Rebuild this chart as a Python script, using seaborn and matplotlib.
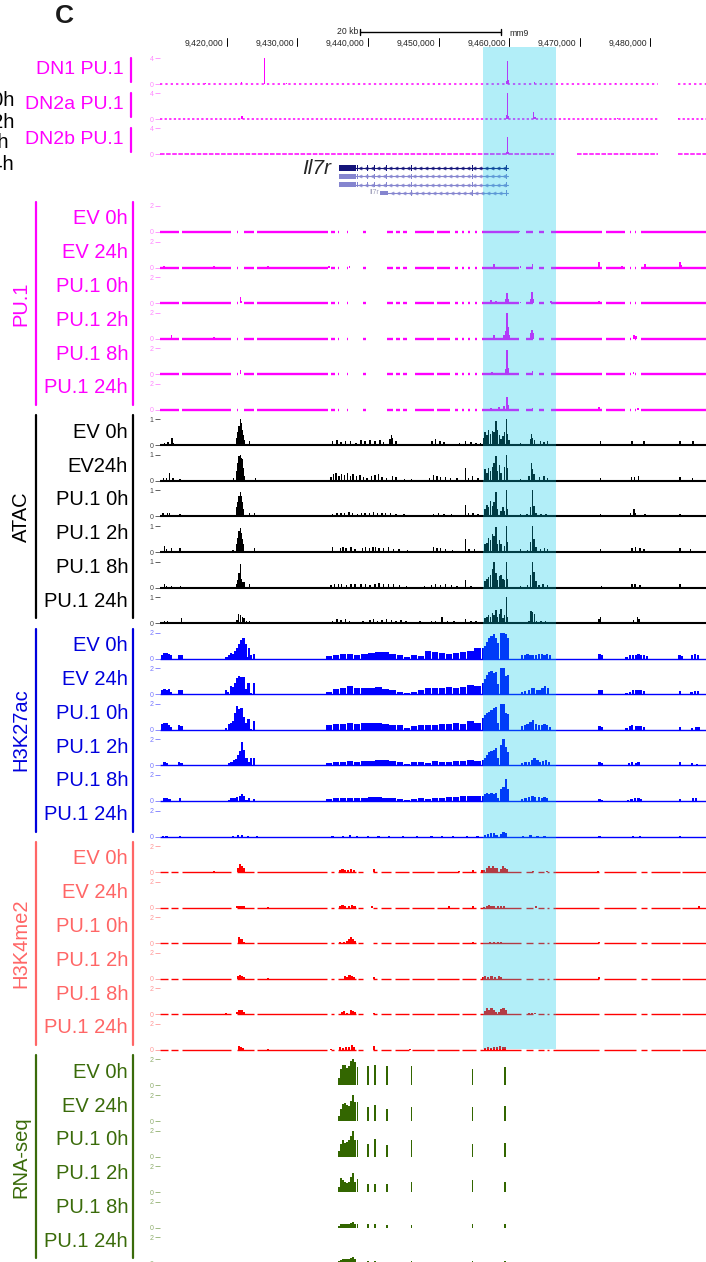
import numpy as np
import matplotlib
matplotlib.use("Agg")
import matplotlib.pyplot as plt
import seaborn as sns
from matplotlib.lines import Line2D

sns.set_theme(style="white")
plt.rcParams['font.family'] = ['Liberation Sans', 'DejaVu Sans']

# ---------------------------------------------------------------- data
ORIGIN_KB = 9420.0                      # positions below are kb offsets from 9,420,000 (mm9 chr15)
VIEW_KB = (-9.43, 67.86)
RULER_TICKS_KB = [9420, 9430, 9440, 9450, 9460, 9470, 9480]
SCALE_BAR_KB = (18.9, 38.9)             # 20 kb
HIGHLIGHT_KB = (36.3, 46.6)

# gene model (Il7r, minus strand)
GENE_START_KB = 15.95
GENE_UTR_END_KB = 18.3
GENE_TSS_KB = 39.8
GENE_EXONS_KB = [18.5, 19.97, 20.96, 22.7, 26.15, 34.82, 39.6]
SHORT_TX_START_KB = 21.7
SHORT_TX_BLOCK_END_KB = 22.8

# DN thymocyte PU.1 ChIP (scale 0-4)
DN_LABELS = ["DN1 PU.1", "DN2a PU.1", "DN2b PU.1"]
DN1 = [(-3.0, 0.15), (2.05, 0.4), (5.37, 4.2), (8.5, 0.15), (20.0, 0.12), (39.6, 0.5), (39.8, 3.6),
       (39.95, 0.6), (43.6, 0.4), (55.0, 0.15), (58.0, 0.15)]
DN2A = [(2.18, 0.5), (2.3, 0.2), (39.6, 0.6), (39.8, 4.2), (39.95, 0.5), (43.5, 1.2), (43.65, 0.4),
        (55.3, 0.25), (64.0, 0.2)]
DN2B = [(39.6, 0.3), (39.8, 2.6), (39.95, 0.3)]
DN_COVER = [(-9.43, 61.0), (63.9, 67.86)]
DN2B_COVER = [(-9.43, 46.4), (49.6, 61.0), (63.9, 67.86)]

TRACK_LABELS = ["EV 0h", "EV 24h", "PU.1 0h", "PU.1 2h", "PU.1 8h", "PU.1 24h"]
ATAC_LABELS = ["EV 0h", "EV24h", "PU.1 0h", "PU.1 2h", "PU.1 8h", "PU.1 24h"]

# PU.1 ChIP (scale 0-2)
PU1_EV0 = [(-1.8, 0.08), (5.9, 0.06), (41.4, 0.08), (56.0, 0.06)]
PU1_EV24 = [(-8.9, 0.15), (-1.8, 0.1), (5.9, 0.1), (14.5, 0.12), (17.4, 0.1), (37.9, 0.25), (41.6, 0.1),
            (43.3, 0.3), (52.7, 0.45), (56.0, 0.12), (59.2, 0.3), (64.2, 0.45), (64.4, 0.2)]
PU1_P0 = [(1.96, 0.45), (2.1, 0.2), (37.4, 0.25), (38.1, 0.2), (39.6, 0.35), (39.71, 0.75), (39.85, 0.3),
          (41.6, 0.12), (43.1, 0.3), (43.28, 0.85), (43.45, 0.35), (45.9, 0.15), (52.7, 0.15), (59.2, 0.12)]
PU1_P2 = [(-7.8, 0.3), (-1.8, 0.1), (37.9, 0.25), (39.3, 0.3), (39.5, 0.6), (39.71, 2.0), (39.85, 0.9),
          (40.0, 0.3), (43.1, 0.45), (43.28, 0.65), (43.45, 0.4), (57.7, 0.3), (57.9, 0.2)]
PU1_P8 = [(1.96, 0.35), (37.6, 0.15), (39.5, 0.4), (39.71, 1.9), (39.85, 0.5), (43.3, 0.25), (57.6, 0.15)]
PU1_P24 = [(37.4, 0.15), (38.6, 0.2), (39.3, 0.3), (39.71, 1.0), (39.85, 0.4), (43.3, 0.12), (52.7, 0.2),
           (58.2, 0.12)]
PU1_COVER = [(-9.43, -6.8), (-6.3, 0.6), (1.4, 1.6), (2.5, 3.9), (4.3, 14.3), (14.8, 15.3), (15.7, 15.9),
             (17.0, 17.2), (19.3, 19.7), (22.7, 23.6), (24.0, 24.6), (25.0, 25.6), (26.7, 29.3),
             (29.8, 31.6), (32.4, 32.8), (33.3, 33.6), (34.2, 34.4), (35.1, 35.4), (36.1, 41.4),
             (42.4, 43.4), (44.2, 44.9), (45.9, 53.2), (53.7, 56.4), (57.1, 57.3), (57.8, 58.0),
             (58.7, 67.86)]

# ATAC-seq (scale 0-1)
ATAC_EV0 = [(-8.8, 0.1), (-8.3, 0.12), (-7.73, 0.28), (-7.5, 0.08), (-6.4, 0.05),
            (1.46, 0.3), (1.61, 0.5), (1.76, 0.75), (1.96, 1.05), (2.11, 0.85), (2.26, 0.6), (2.41, 0.4),
            (2.56, 0.2), (3.22, 0.15),
            (15.0, 0.15), (15.6, 0.2), (16.2, 0.12), (16.8, 0.18), (17.5, 0.15), (18.3, 0.1), (19.0, 0.2),
            (19.6, 0.15), (20.3, 0.2), (21.0, 0.18), (21.7, 0.2), (22.2, 0.12), (23.1, 0.25), (23.3, 0.4),
            (23.5, 0.3), (24.0, 0.15), (29.1, 0.15), (29.6, 0.25), (30.2, 0.15), (30.8, 0.12), (32.3, 0.05),
            (33.0, 0.1), (33.8, 0.18), (34.6, 0.12), (35.3, 0.1), (35.9, 0.08),
            (36.45, 0.3), (36.6, 0.5), (36.85, 0.4), (37.1, 0.6), (37.35, 0.45), (37.6, 0.55), (37.85, 0.5),
            (38.11, 0.95), (38.3, 0.6), (38.61, 0.4), (38.86, 0.25), (39.11, 0.35), (39.36, 0.5),
            (39.61, 1.0), (39.8, 0.45), (40.0, 0.2),
            (41.6, 0.08), (42.6, 0.05), (43.0, 0.25), (43.13, 0.42), (43.3, 0.3), (43.6, 0.2), (44.4, 0.15),
            (44.9, 0.12), (45.4, 0.15), (46.0, 0.05), (52.9, 0.15), (57.4, 0.15), (59.1, 0.15), (64.2, 0.15),
            (66.0, 0.15)]
ATAC_EV24 = [(-8.9, 0.12), (-8.5, 0.12), (-8.1, 0.3), (-7.6, 0.1), (-6.6, 0.08), (-5.5, 0.05), (0.96, 0.1),
             (1.46, 0.4), (1.61, 0.7), (1.76, 0.95), (1.96, 1.0), (2.11, 0.9), (2.26, 0.85), (2.41, 0.5),
             (2.56, 0.2), (4.1, 0.1), (6.5, 0.04),
             (14.8, 0.15), (15.1, 0.25), (15.5, 0.3), (15.9, 0.2), (16.3, 0.28), (16.7, 0.22), (17.1, 0.3),
             (17.5, 0.2), (17.9, 0.25), (18.4, 0.18), (18.9, 0.22), (19.4, 0.15), (19.9, 0.12), (20.5, 0.18),
             (21.0, 0.22), (21.5, 0.25), (22.0, 0.15), (22.6, 0.1), (23.5, 0.2), (24.0, 0.15), (25.2, 0.08),
             (26.2, 0.06), (28.7, 0.1), (29.3, 0.22), (29.8, 0.2), (30.3, 0.15), (31.0, 0.15), (31.7, 0.1),
             (32.6, 0.12), (33.84, 0.5), (34.2, 0.12), (34.84, 0.18), (35.6, 0.1),
             (36.6, 0.45), (36.85, 0.3), (37.1, 0.5), (37.35, 0.4), (37.6, 0.55), (37.85, 0.7), (38.11, 0.95),
             (38.36, 0.4), (38.61, 0.6), (38.86, 0.3), (39.36, 0.55), (39.61, 1.05), (39.8, 0.5),
             (41.6, 0.06), (42.8, 0.2), (43.13, 0.7), (43.3, 0.45), (43.5, 0.25), (44.3, 0.15), (44.9, 0.2),
             (45.4, 0.12), (52.9, 0.12), (56.4, 0.05), (57.3, 0.15), (57.7, 0.15), (58.3, 0.2), (64.2, 0.15),
             (65.97, 0.12)]
ATAC_P0 = [(-9.0, 0.12), (-8.4, 0.15), (-8.1, 0.15), (-6.6, 0.1), (-1.8, 0.04), (0.0, 0.04), (0.9, 0.06),
           (1.46, 0.35), (1.61, 0.55), (1.76, 0.8), (1.96, 0.93), (2.11, 0.8), (2.26, 0.55), (2.41, 0.3),
           (3.22, 0.15), (3.97, 0.15),
           (15.0, 0.1), (15.6, 0.12), (16.2, 0.15), (16.7, 0.12), (17.3, 0.18), (17.8, 0.12), (18.5, 0.1),
           (19.1, 0.15), (19.6, 0.12), (20.2, 0.15), (20.8, 0.18), (21.4, 0.15), (22.0, 0.12), (22.5, 0.15),
           (23.2, 0.12), (24.0, 0.1), (25.1, 0.08), (27.0, 0.06), (29.3, 0.1), (30.0, 0.12), (30.8, 0.1),
           (31.8, 0.08), (33.84, 0.45), (34.2, 0.12), (34.9, 0.12), (35.6, 0.08),
           (36.6, 0.3), (36.85, 0.45), (37.1, 0.35), (37.35, 0.6), (37.6, 0.4), (37.85, 0.55), (38.11, 0.95),
           (38.36, 0.3), (38.86, 0.2), (39.11, 0.35), (39.36, 0.2), (39.61, 1.05), (39.8, 0.3),
           (41.6, 0.08), (42.5, 0.1), (43.0, 0.35), (43.28, 1.0), (43.5, 0.4), (43.8, 0.15), (44.5, 0.1),
           (45.2, 0.1), (52.9, 0.1), (57.2, 0.12), (57.68, 0.3), (57.9, 0.15), (59.2, 0.1), (64.2, 0.1)]
ATAC_P2 = [(-8.83, 0.25), (-8.5, 0.1), (-7.83, 0.15), (-6.57, 0.15), (-1.8, 0.04), (0.0, 0.05), (0.9, 0.06),
           (1.46, 0.3), (1.61, 0.55), (1.76, 0.8), (1.96, 0.94), (2.11, 0.75), (2.26, 0.5), (2.41, 0.3),
           (3.97, 0.15),
           (15.0, 0.2), (16.1, 0.15), (16.5, 0.2), (16.9, 0.15), (17.6, 0.18), (18.2, 0.12), (19.2, 0.15),
           (19.7, 0.2), (20.2, 0.15), (20.7, 0.2), (21.1, 0.18), (21.6, 0.15), (22.2, 0.15), (22.9, 0.18),
           (23.6, 0.12), (24.4, 0.1), (25.6, 0.06), (29.32, 0.2), (29.8, 0.15), (30.3, 0.15), (31.0, 0.1),
           (32.0, 0.08), (33.84, 0.5), (34.3, 0.1), (35.1, 0.1),
           (36.6, 0.3), (36.85, 0.35), (37.1, 0.55), (37.35, 0.45), (37.6, 0.7), (37.85, 0.6), (38.11, 0.95),
           (38.36, 0.3), (38.61, 0.45), (38.86, 0.3), (39.36, 0.25), (39.61, 1.05), (39.8, 0.4),
           (41.6, 0.1), (42.6, 0.08), (43.0, 0.4), (43.28, 1.0), (43.5, 0.5), (43.8, 0.2), (44.4, 0.12),
           (45.0, 0.15), (45.4, 0.1), (52.9, 0.1), (57.4, 0.15), (57.9, 0.2), (58.5, 0.15), (59.1, 0.12),
           (64.2, 0.15), (65.7, 0.1)]
ATAC_P8 = [(-8.83, 0.15), (-8.5, 0.08), (-7.8, 0.05), (-6.5, 0.08),
           (1.46, 0.15), (1.61, 0.3), (1.76, 0.55), (1.96, 0.9), (2.11, 0.35), (2.26, 0.2), (2.46, 0.2),
           (3.22, 0.15),
           (14.8, 0.1), (15.3, 0.12), (15.8, 0.15), (16.3, 0.12), (17.0, 0.1), (17.6, 0.15), (18.2, 0.12),
           (19.0, 0.12), (19.7, 0.15), (20.3, 0.1), (21.0, 0.15), (21.6, 0.18), (22.2, 0.12), (22.9, 0.15),
           (23.6, 0.12), (24.5, 0.1), (25.5, 0.06), (28.0, 0.06), (29.0, 0.1), (29.6, 0.12), (30.3, 0.1),
           (31.0, 0.12), (31.8, 0.1), (32.6, 0.08), (33.84, 0.3), (34.6, 0.08),
           (36.6, 0.25), (36.85, 0.35), (37.1, 0.4), (37.35, 0.5), (37.6, 0.7), (37.85, 1.05), (38.11, 0.55),
           (38.36, 0.3), (38.61, 0.45), (38.86, 0.5), (39.11, 0.35), (39.36, 0.3), (39.61, 1.05), (39.8, 0.35),
           (41.6, 0.08), (42.6, 0.1), (43.0, 0.5), (43.28, 1.0), (43.5, 0.6), (43.8, 0.25), (44.2, 0.1),
           (44.8, 0.12), (45.4, 0.1), (53.1, 0.05), (57.4, 0.12), (57.8, 0.15), (58.5, 0.1), (64.2, 0.12)]
ATAC_P24 = [(-8.83, 0.1), (-8.4, 0.1), (-6.42, 0.2), (-1.8, 0.04),
            (1.46, 0.12), (1.71, 0.35), (1.96, 0.3), (2.21, 0.25), (2.46, 0.2), (2.8, 0.1), (3.22, 0.1),
            (15.0, 0.1), (15.6, 0.15), (16.2, 0.12), (16.8, 0.15), (17.4, 0.1), (19.3, 0.08), (20.3, 0.12),
            (20.8, 0.15), (21.4, 0.1), (22.0, 0.12), (22.6, 0.15), (23.3, 0.12), (24.0, 0.1), (24.7, 0.12),
            (25.4, 0.08), (27.4, 0.08), (29.0, 0.1), (29.6, 0.1), (30.47, 0.25), (31.3, 0.08), (32.2, 0.08),
            (33.84, 0.15), (34.6, 0.1), (35.3, 0.08),
            (36.6, 0.2), (36.85, 0.25), (37.1, 0.3), (37.35, 0.25), (37.6, 0.4), (37.85, 0.3), (38.11, 0.5),
            (38.36, 0.25), (38.61, 0.35), (38.86, 0.55), (39.11, 0.2), (39.36, 0.3), (39.61, 1.05), (39.8, 0.25),
            (41.6, 0.05), (42.8, 0.1), (43.1, 0.45), (43.3, 0.42), (43.6, 0.35), (43.9, 0.1), (44.5, 0.1),
            (45.1, 0.08), (52.7, 0.15), (52.91, 0.25), (57.6, 0.12), (58.18, 0.25), (58.4, 0.15), (64.2, 0.05)]

# H3K27ac (scale 0-2); (pos, height) or (pos, height, width)
K27_EV0 = [(-9.1, 0.3), (-8.8, 0.45), (-8.5, 0.45), (-8.2, 0.4), (-7.9, 0.3), (-6.7, 0.25), (-6.4, 0.25),
           (0.0, 0.15), (0.3, 0.3), (0.6, 0.45), (0.9, 0.4), (1.2, 0.6), (1.5, 0.8), (1.8, 1.15), (2.1, 1.45),
           (2.4, 1.6), (2.7, 1.1), (3.0, 0.15), (3.2, 0.85), (3.5, 0.3), (3.9, 0.35),
           (14.5, 0.2, 0.9), (15.5, 0.3, 0.9), (16.5, 0.4, 0.9), (17.5, 0.4, 0.9), (18.5, 0.3, 0.9),
           (19.5, 0.4, 0.9), (20.5, 0.45, 0.9), (21.5, 0.5, 0.9), (22.5, 0.55, 0.9), (23.5, 0.4, 0.9),
           (24.5, 0.3, 0.9), (25.5, 0.1, 0.9), (26.5, 0.25, 0.9), (27.5, 0.2, 0.9), (28.5, 0.6, 0.9),
           (29.5, 0.55, 0.9), (30.5, 0.45, 0.9), (31.5, 0.35, 0.9), (32.5, 0.45, 0.9), (33.5, 0.5, 0.9),
           (34.5, 0.6, 0.9), (35.5, 0.85, 0.9),
           (36.3, 0.8), (36.6, 1.0), (36.9, 1.3), (37.2, 1.6), (37.5, 1.75), (37.8, 1.9), (38.1, 1.6),
           (38.4, 1.2), (38.9, 2.1), (39.2, 2.1), (39.5, 1.9), (39.8, 1.6),
           (41.8, 0.25), (42.2, 0.3), (42.6, 0.35), (43.0, 0.3), (43.4, 0.25), (43.8, 0.3), (44.2, 0.35),
           (44.6, 0.4), (45.0, 0.3), (45.4, 0.35), (45.8, 0.3),
           (52.8, 0.35), (53.1, 0.25), (56.6, 0.15), (57.1, 0.25), (57.5, 0.3), (57.9, 0.3), (58.3, 0.35),
           (58.7, 0.3), (59.1, 0.3), (59.5, 0.2), (64.1, 0.3), (64.4, 0.2), (65.9, 0.3), (66.3, 0.35), (66.7, 0.25)]
K27_EV24 = [(-9.1, 0.35), (-8.8, 0.4), (-8.5, 0.35), (-8.2, 0.4), (-7.9, 0.2), (-6.7, 0.35), (-6.4, 0.3),
            (-0.1, 0.3), (0.2, 0.2), (0.6, 0.6), (0.9, 0.55), (1.2, 0.9), (1.5, 1.25), (1.8, 1.4), (2.1, 1.35),
            (2.4, 1.3), (2.7, 0.4), (3.1, 0.9), (3.5, 0.1), (3.9, 0.85),
            (14.5, 0.2, 0.9), (15.5, 0.4, 0.9), (16.5, 0.45, 0.9), (17.5, 0.6, 0.9), (18.5, 0.45, 0.9),
            (19.5, 0.45, 0.9), (20.5, 0.5, 0.9), (21.5, 0.55, 0.9), (22.5, 0.4, 0.9), (23.5, 0.35, 0.9),
            (24.5, 0.15, 0.9), (25.5, 0.1, 0.9), (26.5, 0.15, 0.9), (27.5, 0.3, 0.9), (28.5, 0.5, 0.9),
            (29.5, 0.45, 0.9), (30.5, 0.45, 0.9), (31.5, 0.55, 0.9), (32.5, 0.5, 0.9), (33.5, 0.55, 0.9),
            (34.5, 0.7, 0.9), (35.5, 0.6, 0.9),
            (36.3, 0.9), (36.6, 1.2), (36.9, 1.45), (37.2, 1.75), (37.5, 1.8), (37.8, 1.6), (38.1, 1.7),
            (38.4, 0.8), (38.9, 2.1), (39.2, 2.1), (39.5, 1.4), (39.8, 1.5),
            (41.8, 0.2), (42.2, 0.25), (42.8, 0.3), (43.2, 0.5), (43.5, 0.45), (43.9, 0.35), (44.3, 0.3),
            (44.7, 0.5), (45.1, 0.6), (45.5, 0.45),
            (52.8, 0.3), (53.1, 0.3), (56.6, 0.1), (57.1, 0.2), (57.5, 0.35), (57.9, 0.3), (58.3, 0.35),
            (58.7, 0.3), (59.1, 0.25), (64.2, 0.25), (65.8, 0.2), (66.3, 0.25), (66.7, 0.25)]
K27_P0 = [(-9.1, 0.45), (-8.8, 0.55), (-8.5, 0.5), (-8.2, 0.4), (-7.9, 0.25), (-6.7, 0.35), (-6.4, 0.3),
          (-0.1, 0.15), (0.3, 0.45), (0.6, 0.5), (0.9, 0.65), (1.2, 1.3), (1.5, 1.85), (1.8, 1.6), (2.1, 1.7),
          (2.4, 1.0), (2.7, 0.5), (3.1, 0.8), (3.5, 0.1), (3.9, 0.7),
          (14.5, 0.35, 0.9), (15.5, 0.45, 0.9), (16.5, 0.45, 0.9), (17.5, 0.55, 0.9), (18.5, 0.45, 0.9),
          (19.5, 0.5, 0.9), (20.5, 0.5, 0.9), (21.5, 0.5, 0.9), (22.5, 0.45, 0.9), (23.5, 0.35, 0.9),
          (24.5, 0.4, 0.9), (25.5, 0.15, 0.9), (26.5, 0.3, 0.9), (27.5, 0.35, 0.9), (28.5, 0.35, 0.9),
          (29.5, 0.4, 0.9), (30.5, 0.45, 0.9), (31.5, 0.45, 0.9), (32.5, 0.5, 0.9), (33.5, 0.45, 0.9),
          (34.5, 0.7, 0.9), (35.5, 0.55, 0.9),
          (36.3, 0.9), (36.6, 1.15), (36.9, 1.3), (37.2, 1.4), (37.5, 1.55), (37.8, 1.7), (38.1, 1.75),
          (38.4, 0.5), (38.9, 2.1), (39.2, 2.1), (39.5, 1.3), (39.8, 1.2),
          (41.8, 0.3), (42.2, 0.35), (42.6, 0.45), (43.0, 0.6), (43.4, 0.75), (43.8, 0.45), (44.2, 0.35),
          (44.6, 0.4), (45.0, 0.45), (45.4, 0.35), (45.8, 0.25),
          (52.8, 0.3), (53.1, 0.25), (56.6, 0.15), (57.1, 0.3), (57.4, 0.4), (57.9, 0.3), (58.3, 0.3),
          (58.7, 0.3), (59.1, 0.25), (64.2, 0.25), (65.9, 0.15), (66.4, 0.2), (66.8, 0.2)]
K27_P2 = [(-9.3, 0.05), (-8.8, 0.25), (-8.4, 0.2), (-6.7, 0.25), (-6.4, 0.2),
          (0.3, 0.15), (0.7, 0.3), (1.0, 0.45), (1.3, 0.5), (1.6, 0.8), (1.9, 1.1), (2.2, 1.8), (2.5, 1.2),
          (2.8, 0.6), (3.1, 0.3), (3.5, 0.55), (3.9, 0.55),
          (14.5, 0.2, 0.9), (15.5, 0.25, 0.9), (16.5, 0.3, 0.9), (17.5, 0.35, 0.9), (18.5, 0.3, 0.9),
          (19.5, 0.35, 0.9), (20.5, 0.35, 0.9), (21.5, 0.45, 0.9), (22.5, 0.4, 0.9), (23.5, 0.35, 0.9),
          (24.5, 0.25, 0.9), (25.5, 0.1, 0.9), (26.5, 0.3, 0.9), (27.5, 0.3, 0.9), (28.5, 0.15, 0.9),
          (29.5, 0.35, 0.9), (30.5, 0.3, 0.9), (31.5, 0.25, 0.9), (32.5, 0.35, 0.9), (33.5, 0.35, 0.9),
          (34.5, 0.4, 0.9), (35.5, 0.35, 0.9),
          (36.3, 0.4), (36.6, 0.6), (36.9, 0.8), (37.2, 1.0), (37.5, 1.1), (37.8, 1.2), (38.1, 1.35),
          (38.4, 0.6), (38.9, 1.6), (39.2, 2.05), (39.5, 1.4), (39.8, 1.0),
          (41.8, 0.2), (42.3, 0.25), (42.8, 0.3), (43.3, 0.45), (43.6, 0.55), (44.0, 0.4), (44.4, 0.3),
          (44.8, 0.35), (45.2, 0.4), (45.6, 0.3),
          (52.8, 0.25), (53.1, 0.2), (57.0, 0.15), (57.4, 0.3), (57.9, 0.2), (58.3, 0.3), (64.2, 0.3),
          (65.9, 0.2), (66.6, 0.1)]
K27_P8 = [(-8.9, 0.2), (-8.5, 0.25), (-8.1, 0.15), (-6.6, 0.2),
          (0.3, 0.1), (0.7, 0.2), (1.1, 0.25), (1.5, 0.3), (1.9, 0.4), (2.2, 0.5), (2.5, 0.35), (2.8, 0.1),
          (3.2, 0.25), (3.9, 0.15),
          (14.5, 0.15, 0.9), (15.5, 0.2, 0.9), (16.5, 0.25, 0.9), (17.5, 0.25, 0.9), (18.5, 0.2, 0.9),
          (19.5, 0.25, 0.9), (20.5, 0.3, 0.9), (21.5, 0.3, 0.9), (22.5, 0.25, 0.9), (23.5, 0.2, 0.9),
          (24.5, 0.15, 0.9), (25.5, 0.08, 0.9), (26.5, 0.15, 0.9), (27.5, 0.2, 0.9), (28.5, 0.15, 0.9),
          (29.5, 0.2, 0.9), (30.5, 0.25, 0.9), (31.5, 0.3, 0.9), (32.5, 0.3, 0.9), (33.5, 0.35, 0.9),
          (34.5, 0.4, 0.9), (35.5, 0.35, 0.9),
          (36.3, 0.4), (36.6, 0.55), (36.9, 0.6), (37.2, 0.55), (37.5, 0.65), (37.8, 0.5), (38.1, 0.6),
          (38.4, 0.2), (38.9, 0.9), (39.2, 1.05), (39.5, 1.7), (39.8, 0.9),
          (41.8, 0.15), (42.3, 0.25), (42.8, 0.3), (43.3, 0.4), (43.7, 0.3), (44.2, 0.3), (44.6, 0.25),
          (45.0, 0.3), (45.4, 0.2),
          (52.8, 0.15), (53.1, 0.1), (56.8, 0.1), (57.3, 0.15), (57.8, 0.2), (58.3, 0.25), (58.7, 0.15),
          (64.2, 0.15), (66.0, 0.2), (66.4, 0.25)]
K27_P24 = [(-9.0, 0.05), (-8.5, 0.05), (-6.6, 0.05), (0.9, 0.05), (1.6, 0.08), (2.2, 0.08), (3.0, 0.05),
           (4.3, 0.05), (15.0, 0.05), (16.5, 0.06), (17.5, 0.08), (18.5, 0.05), (20.0, 0.07), (21.5, 0.06),
           (23.0, 0.05), (25.0, 0.04), (27.0, 0.05), (29.0, 0.06), (30.5, 0.05), (32.0, 0.06), (34.0, 0.05),
           (35.5, 0.06), (36.6, 0.08), (37.0, 0.2), (37.4, 0.3), (37.8, 0.25), (38.2, 0.1), (38.9, 0.2),
           (39.2, 0.35), (39.5, 0.3), (42.0, 0.05), (43.0, 0.08), (44.0, 0.06), (45.0, 0.05), (52.8, 0.05),
           (57.5, 0.06), (58.5, 0.05), (64.2, 0.04)]

# H3K4me2 (scale 0-2)
K4_EV0 = [(-1.8, 0.05), (1.6, 0.35), (1.9, 0.6), (2.2, 0.5), (2.5, 0.3), (5.9, 0.04), (16.0, 0.15), (16.4, 0.2),
          (16.8, 0.15), (17.2, 0.15), (17.6, 0.2), (18.0, 0.15), (20.9, 0.2), (32.9, 0.1), (34.9, 0.15),
          (36.1, 0.15), (36.4, 0.15), (36.8, 0.35), (37.1, 0.45), (37.4, 0.35), (37.7, 0.45), (38.0, 0.35),
          (38.3, 0.3), (38.8, 0.2), (39.1, 0.45), (39.4, 0.3), (39.7, 0.25), (43.4, 0.08), (45.4, 0.06),
          (52.6, 0.05), (56.3, 0.04)]
K4_EV24 = [(1.5, 0.12), (1.8, 0.15), (2.1, 0.15), (2.4, 0.1), (5.9, 0.03), (16.0, 0.12), (16.4, 0.2),
           (16.8, 0.12), (17.3, 0.15), (17.8, 0.2), (18.1, 0.15), (20.6, 0.1), (31.5, 0.12), (34.9, 0.1),
           (36.4, 0.08), (36.8, 0.15), (37.1, 0.18), (37.5, 0.15), (37.9, 0.15), (38.4, 0.12), (38.8, 0.15),
           (39.3, 0.12), (43.8, 0.1), (66.9, 0.1)]
K4_P0 = [(1.8, 0.45), (2.1, 0.3), (2.4, 0.12), (16.1, 0.08), (16.6, 0.1), (17.0, 0.15), (17.3, 0.3),
         (17.6, 0.45), (17.9, 0.35), (18.2, 0.2), (34.9, 0.12), (37.3, 0.1), (37.8, 0.12), (38.4, 0.1),
         (38.9, 0.12), (52.7, 0.12)]
K4_P2 = [(1.6, 0.2), (1.9, 0.28), (2.2, 0.25), (2.5, 0.15), (5.9, 0.03), (16.8, 0.2), (17.1, 0.15),
         (17.4, 0.3), (17.7, 0.2), (18.0, 0.15), (20.9, 0.15), (36.3, 0.15), (36.6, 0.2), (37.0, 0.15),
         (37.5, 0.2), (38.0, 0.15), (38.5, 0.2), (38.9, 0.15), (52.7, 0.15)]
K4_P8 = [(-0.1, 0.12), (1.5, 0.2), (1.8, 0.3), (2.1, 0.35), (2.4, 0.2), (3.8, 0.05), (16.3, 0.2), (16.6, 0.25),
         (17.0, 0.1), (17.6, 0.3), (17.9, 0.25), (18.2, 0.2), (20.9, 0.08), (32.9, 0.06), (36.6, 0.25),
         (36.9, 0.45), (37.2, 0.3), (37.5, 0.45), (37.8, 0.35), (38.1, 0.2), (38.6, 0.2), (38.9, 0.4),
         (39.2, 0.45), (39.5, 0.3), (42.8, 0.1), (43.2, 0.12), (43.6, 0.1)]
K4_P24 = [(1.7, 0.3), (2.0, 0.2), (2.3, 0.12), (5.9, 0.03), (14.8, 0.05), (16.1, 0.2), (16.5, 0.15),
          (16.9, 0.25), (17.3, 0.2), (17.7, 0.35), (18.0, 0.25), (20.9, 0.3), (26.0, 0.08), (36.6, 0.15),
          (37.0, 0.2), (37.4, 0.15), (37.8, 0.25), (38.3, 0.2), (38.7, 0.3), (39.1, 0.25), (39.4, 0.2)]
K4_COVER = [(-9.43, -8.33), (-7.83, -6.82), (-6.32, 0.61), (1.46, 3.87), (4.32, 14.26), (14.76, 15.26),
            (15.77, 18.28), (18.53, 19.28), (20.79, 21.29), (21.79, 23.3), (23.8, 25.81), (26.31, 29.32),
            (29.82, 32.83), (33.34, 35.34), (35.85, 41.62), (42.37, 43.38), (44.13, 44.88), (45.38, 45.64),
            (46.14, 52.66), (53.42, 57.93), (58.69, 59.44), (60.04, 64.21), (64.46, 67.86)]

# RNA-seq (scale 0-2): 3' UTR hump bins + exon heights
RNA_HUMP_KB = [15.95, 16.23, 16.51, 16.79, 17.07, 17.35, 17.63, 17.91, 18.15]
RNA_EXON_KB = [18.5, 19.97, 20.96, 22.7, 26.15, 34.82, 39.35]
RNA_EXON_W = [0.14, 0.3, 0.25, 0.35, 0.14, 0.25, 0.3]
RNA_EV0_HUMP = [0.6, 1.3, 1.55, 1.6, 1.35, 1.5, 1.85, 2.05, 1.8]
RNA_EV0_EXON = [1.45, 1.5, 1.6, 1.5, 1.5, 1.3, 1.4]
RNA_EV24_HUMP = [0.35, 0.9, 1.3, 1.35, 1.2, 1.15, 1.55, 2.0, 1.5]
RNA_EV24_EXON = [1.5, 1.1, 1.2, 0.95, 1.08, 1.08, 1.15]
RNA_P0_HUMP = [0.45, 1.0, 1.3, 1.05, 1.1, 1.3, 1.6, 2.0, 1.3]
RNA_P0_EXON = [1.3, 1.0, 1.35, 0.9, 1.3, 1.0, 1.08]
RNA_P2_HUMP = [0.4, 1.1, 0.9, 0.75, 0.7, 0.8, 1.2, 1.45, 0.75]
RNA_P2_EXON = [1.0, 0.65, 0.65, 0.6, 0.75, 0.9, 0.75]
RNA_P8_HUMP = [0.15, 0.25, 0.3, 0.25, 0.25, 0.3, 0.35, 0.45, 0.3]
RNA_P8_EXON = [0.25, 0.3, 0.3, 0.2, 0.2, 0.3, 0.3]
RNA_P24_HUMP = [0.15, 0.25, 0.3, 0.3, 0.3, 0.35, 0.4, 0.45, 0.3]
RNA_P24_EXON = [0.1, 0.15, 0.15, 0.1, 0.2, 0.15, 0.15]

# ---------------------------------------------------------------- layout
W, H = 706, 1262
X0, X1 = 160, 706
DATA_H = 26
DN_BASE0, DN_STEP = 84.3, 35.0
TRACK_BASE0, TRACK_STEP = 232.0, 35.56

fig = plt.figure(figsize=(W / 100, H / 100), dpi=100)
fig.patch.set_facecolor("white")


def px_axes(x0, y0, x1, y1):
    return fig.add_axes([x0 / W, 1 - y1 / H, (x1 - x0) / W, (y1 - y0) / H])


def fx(x):
    return x / W


def fy(y):
    return 1 - y / H


def kb(v):
    return ORIGIN_KB + np.asarray(v, dtype=float)


def clean(ax):
    ax.set_xlim(kb(VIEW_KB[0]), kb(VIEW_KB[1]))
    ax.patch.set_alpha(0)
    for s in ax.spines.values():
        s.set_visible(False)
    ax.set_xticks([])
    ax.grid(False)


def track(baseline, peaks, color, vmax, default_w, cover, lw, tick_color, ls='-'):
    ax = px_axes(X0, baseline - DATA_H, X1, baseline)
    clean(ax)
    pos = [p[0] for p in peaks]
    hs = [p[1] for p in peaks]
    ws = [p[2] if len(p) > 2 else default_w for p in peaks]
    ax.bar(kb(pos), hs, width=ws, color=color, linewidth=0, align='center', zorder=2)
    if cover is not None:
        for s, e in cover:
            ax.plot(kb([s, e]), [0, 0], color=color, lw=lw, ls=ls, solid_capstyle='butt',
                    dash_capstyle='butt', clip_on=False, zorder=3)
    ax.set_ylim(0, vmax)
    ax.set_yticks([0, vmax])
    ax.set_yticklabels(['0', str(vmax)])
    ax.tick_params(axis='y', left=True, length=3.5, width=0.6, color=tick_color, labelsize=5,
                   labelcolor=tick_color, pad=1.2)
    return ax


FULL = [VIEW_KB]

# ---- ruler
axr = px_axes(X0, 22, X1, 47)
clean(axr)
axr.set_ylim(25, 0)
axr.axis('off')
for t in RULER_TICKS_KB:
    axr.plot([t, t], [16, 24], color='black', lw=0.7)
    axr.text(t - 0.45, 21, f"{t * 1000:,}", ha='right', va='center', fontsize=6.2)
sb0, sb1 = kb(SCALE_BAR_KB[0]), kb(SCALE_BAR_KB[1])
axr.plot([sb0, sb1], [10, 10], color='black', lw=1.0)
axr.plot([sb0, sb0], [7, 13], color='black', lw=1.0)
axr.plot([sb1, sb1], [7, 13], color='black', lw=1.0)
axr.text(sb0 - 0.2, 10, "20 kb", ha='right', va='center', fontsize=6.2)
axr.text(sb1 + 1.1, 11.5, "mm9", ha='left', va='center', fontsize=6.2)

fig.text(fx(64), fy(16), "C", ha='center', va='center', fontsize=19, fontweight='bold', color='#1a1a1a')

# cut-off labels from neighbouring panel
for txt, xr, yy in [("PU.1 0h", 14, 100), ("PU.1 2h", 14, 122), ("PU.1 8h", 8, 143), ("PU.1 24h", 14, 165)]:
    fig.text(fx(xr), fy(yy), txt, ha='right', va='center', fontsize=14.5, color='black')

# ---- DN tracks
MAG = '#ff00ff'
for k, (lab, data, cover, ls) in enumerate([(DN_LABELS[0], DN1, DN_COVER, (0, (1.5, 2.0))),
                                             (DN_LABELS[1], DN2A, DN_COVER, (0, (1.5, 1.5))),
                                             (DN_LABELS[2], DN2B, DN2B_COVER, (0, (3, 1)))]):
    b = DN_BASE0 + k * DN_STEP
    track(b, data, MAG, 4, 0.15, cover, 1.1, '#ff88ff', ls=ls)
    ly = b - 14.5
    fig.text(fx(124), fy(ly), lab, ha='right', va='center', fontsize=14, color=MAG)
    fig.add_artist(Line2D([fx(131), fx(131)], [fy(ly - 12), fy(ly + 12)], color=MAG, lw=1.6))

# ---- gene model
axg = px_axes(X0, 164, X1, 197)
clean(axg)
axg.set_ylim(3.5, -0.5)
axg.axis('off')
TX_COL = ['#14147a', '#8585cf', '#8585cf', '#8585cf']
for r in range(4):
    c = TX_COL[r]
    start = GENE_START_KB if r < 3 else SHORT_TX_START_KB
    blk_end = GENE_UTR_END_KB if r < 3 else SHORT_TX_BLOCK_END_KB
    axg.plot(kb([start, GENE_TSS_KB]), [r, r], color=c, lw=0.8)
    chev = np.arange(blk_end + 0.6, GENE_TSS_KB - 0.3, 0.85)
    axg.plot(kb(chev), [r] * len(chev), ls='none', marker='<', ms=2.2, mew=0.5, mfc='none', mec=c)
    hb = 0.34 if r == 0 else 0.27
    axg.fill_between(kb([start, blk_end]), r - hb, r + hb, color=c, lw=0)
    ex = [e for e in GENE_EXONS_KB if e > blk_end]
    axg.bar(kb(ex), [0.68] * len(ex), bottom=r - 0.34, width=0.14, color=c, lw=0)
axg.text(kb(GENE_START_KB - 1.1), 0, "Il7r", ha='right', va='center', fontsize=15, style='italic')
axg.text(kb(SHORT_TX_START_KB - 0.15), 3, "Il7r", ha='right', va='center', fontsize=5, color='#9a9ab8')

# ---- grouped tracks
GROUPS = [
    dict(name='PU.1', labels=TRACK_LABELS, data=[PU1_EV0, PU1_EV24, PU1_P0, PU1_P2, PU1_P8, PU1_P24],
         color='#ff00ff', text='#ff00ff', tick='#ff88ff', vmax=2, w=0.25, cover=PU1_COVER, lw=1.7),
    dict(name='ATAC', labels=ATAC_LABELS, data=[ATAC_EV0, ATAC_EV24, ATAC_P0, ATAC_P2, ATAC_P8, ATAC_P24],
         color='#000000', text='#000000', tick='#444444', vmax=1, w=0.2, cover=FULL, lw=1.5),
    dict(name='H3K27ac', labels=TRACK_LABELS, data=[K27_EV0, K27_EV24, K27_P0, K27_P2, K27_P8, K27_P24],
         color='#0000ff', text='#0000dd', tick='#7777ff', vmax=2, w=0.32, cover=FULL, lw=1.0),
    dict(name='H3K4me2', labels=TRACK_LABELS, data=[K4_EV0, K4_EV24, K4_P0, K4_P2, K4_P8, K4_P24],
         color='#ff0000', text='#ff6666', tick='#ff9999', vmax=2, w=0.3, cover=K4_COVER, lw=1.0),
]
RNA_SETS = [(RNA_EV0_HUMP, RNA_EV0_EXON), (RNA_EV24_HUMP, RNA_EV24_EXON), (RNA_P0_HUMP, RNA_P0_EXON),
            (RNA_P2_HUMP, RNA_P2_EXON), (RNA_P8_HUMP, RNA_P8_EXON), (RNA_P24_HUMP, RNA_P24_EXON)]
rna_data = []
for hump, exon in RNA_SETS:
    rna_data.append([(p, h, 0.29) for p, h in zip(RNA_HUMP_KB, hump)] +
                    [(p, h, w) for p, h, w in zip(RNA_EXON_KB, exon, RNA_EXON_W)])
GROUPS.append(dict(name='RNA-seq', labels=TRACK_LABELS, data=rna_data, color='#336600', text='#3a6b0a',
                   tick='#8fae6e', vmax=2, w=0.29, cover=None, lw=1.0))

for g, G in enumerate(GROUPS):
    first = TRACK_BASE0 + TRACK_STEP * 6 * g
    for i, d in enumerate(G['data']):
        track(first + TRACK_STEP * i, d, G['color'], G['vmax'], G['w'], G['cover'], G['lw'], G['tick'])
    top = first - 30
    bot = first + TRACK_STEP * 5 - 5
    for xb in (36, 133):
        fig.add_artist(Line2D([fx(xb), fx(xb)], [fy(top), fy(bot)], color=G['text'], lw=1.6))
    fig.text(fx(21), fy((top + bot) / 2), G['name'], rotation=90, ha='center', va='center',
             fontsize=14.5, color=G['text'])
    for i, lab in enumerate(G['labels']):
        ly = top + (i + 0.5) * (bot - top) / 6
        fig.text(fx(128), fy(ly), lab, ha='right', va='center', fontsize=14.5, color=G['text'])

# ---- highlight overlay
axh = px_axes(X0, 47, X1, 1049)
clean(axh)
axh.axis('off')
axh.set_ylim(0, 1)
axh.axvspan(kb(HIGHLIGHT_KB[0]), kb(HIGHLIGHT_KB[1]), color='#00c7e8', alpha=0.3, lw=0)
axh.set_zorder(10)

fig.savefig("out.png", dpi=100, facecolor='white')
